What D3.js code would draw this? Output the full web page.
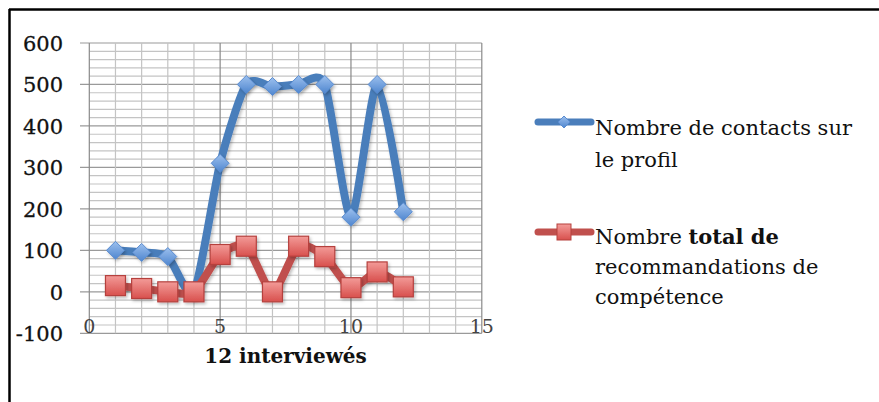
<!DOCTYPE html>
<html><head><meta charset="utf-8">
<script src="https://cdn.jsdelivr.net/npm/d3@7"></script>
<style>body{margin:0;background:#fff}svg{display:block}</style>
</head><body>
<script>
// ---- data ----
const interviewes = [1,2,3,4,5,6,7,8,9,10,11,12];
const contacts = [100,95,85,0,310,500,495,500,500,180,500,193];
const recommandations = [15,8,0,0,90,110,0,110,85,10,48,12];
const xTicks = [0,5,10,15];
const yTicks = [-100,0,100,200,300,400,500,600];
const legendContacts = ["Nombre de contacts sur","le profil"];
const legendReco = [["Nombre ",["total de"]],["recommandations de"],["compétence"]];
const xTitle = "12 interviewés";

const W = 879, H = 402;
const svg = d3.select("body").append("svg").attr("width",W).attr("height",H);
const defs = svg.append("defs");
const gb = defs.append("linearGradient").attr("id","gBlue").attr("x1",0).attr("y1",0).attr("x2",0).attr("y2",1);
gb.append("stop").attr("offset","0%").attr("stop-color","#9cc0ee");
gb.append("stop").attr("offset","100%").attr("stop-color","#4f86cf");
const gr = defs.append("linearGradient").attr("id","gRed").attr("x1",0).attr("y1",0).attr("x2",0).attr("y2",1);
gr.append("stop").attr("offset","0%").attr("stop-color","#f39b98");
gr.append("stop").attr("offset","100%").attr("stop-color","#d8504d");
const f = defs.append("filter").attr("id","sh").attr("x","-50%").attr("y","-50%").attr("width","200%").attr("height","200%");
f.append("feDropShadow").attr("dx",1.5).attr("dy",2).attr("stdDeviation",1.5).attr("flood-color","#000").attr("flood-opacity",0.25);

// frame
svg.append("line").attr("x1",9).attr("x2",W).attr("y1",9.5).attr("y2",9.5).attr("stroke","#000").attr("stroke-width",2.5);
svg.append("line").attr("x1",9.5).attr("x2",9.5).attr("y1",9).attr("y2",H).attr("stroke","#000").attr("stroke-width",2.5);

const x = d3.scaleLinear().domain([0,15]).range([89.3,481.8]);
const y = d3.scaleLinear().domain([-100,600]).range([333.3,43]);

const grid = svg.append("g");
d3.range(-100,601,20).forEach(v=>{
  const major = v%100===0;
  grid.append("line").attr("x1", major?80:x(0)).attr("x2",x(15))
    .attr("y1",y(v)).attr("y2",y(v))
    .attr("stroke", major?"#9a9a9a":"#c4c4c4").attr("stroke-width",1.2);
});
d3.range(0,16,1).forEach(v=>{
  const major = v%5===0;
  grid.append("line").attr("x1",x(v)).attr("x2",x(v))
    .attr("y1",y(600)).attr("y2",y(-100))
    .attr("stroke", major?"#8a8a8a":"#c4c4c4").attr("stroke-width",1.2);
});

// y axis labels
svg.append("g").selectAll("text").data(yTicks).join("text")
  .attr("x",63).attr("y",d=>y(d)+8)
  .attr("text-anchor","end").attr("font-family","DejaVu Serif").attr("font-size",21)
  .attr("fill","#111").attr("stroke","#111").attr("stroke-width",0.3).text(d=>d);
// x axis labels
svg.append("g").selectAll("text").data(xTicks).join("text")
  .attr("x",d=>x(d)).attr("y",333)
  .attr("text-anchor","middle").attr("font-family","DejaVu Serif").attr("font-size",19)
  .attr("fill","#444").text(d=>d);
svg.append("text").attr("x",(x(0)+x(15))/2).attr("y",363)
  .attr("text-anchor","middle").attr("font-family","DejaVu Serif").attr("font-weight","bold")
  .attr("font-size",20).attr("fill","#111").text(xTitle);

const line = d3.line().x(d=>x(d[0])).y(d=>y(d[1])).curve(d3.curveCardinal.tension(0.3));
const blueData = interviewes.map((d,i)=>[d,contacts[i]]);
const redData = interviewes.map((d,i)=>[d,recommandations[i]]);

const diamond = s => `M0,${-s}L${s},0L0,${s}L${-s},0Z`;

svg.append("path").datum(blueData).attr("d",line).attr("fill","none")
  .attr("stroke","#4a7ebb").attr("stroke-width",8).attr("stroke-linejoin","round").attr("filter","url(#sh)");
svg.append("g").selectAll("path").data(blueData).join("path")
  .attr("transform",d=>`translate(${x(d[0])},${y(d[1])})`)
  .attr("d",diamond(9)).attr("fill","url(#gBlue)").attr("stroke","#5a8cd0").attr("stroke-width",1).attr("filter","url(#sh)");

svg.append("path").datum(redData).attr("d",line).attr("fill","none")
  .attr("stroke","#c0504d").attr("stroke-width",8).attr("stroke-linejoin","round").attr("filter","url(#sh)");
svg.append("g").selectAll("rect").data(redData).join("rect")
  .attr("x",d=>x(d[0])-10).attr("y",d=>y(d[1])-10).attr("width",20).attr("height",20)
  .attr("fill","url(#gRed)").attr("stroke","#b5403d").attr("stroke-width",1.2).attr("filter","url(#sh)");

// legend
const lg = svg.append("g");
lg.append("line").attr("x1",538).attr("x2",591).attr("y1",122).attr("y2",122)
  .attr("stroke","#4a7ebb").attr("stroke-width",7).attr("stroke-linecap","round");
lg.append("path").attr("transform","translate(564,122)").attr("d",diamond(6)).attr("fill","url(#gBlue)").attr("stroke","#5a8cd0");
lg.append("line").attr("x1",538).attr("x2",591).attr("y1",232).attr("y2",232)
  .attr("stroke","#c0504d").attr("stroke-width",7).attr("stroke-linecap","round");
lg.append("rect").attr("x",557).attr("y",224).attr("width",14).attr("height",16).attr("fill","url(#gRed)").attr("stroke","#b5403d");

const t1 = lg.append("text").attr("font-family","DejaVu Serif").attr("font-size",21).attr("fill","#111");
legendContacts.forEach((s,i)=>t1.append("tspan").attr("x",595).attr("y",135+i*32).text(s));
const t2 = lg.append("text").attr("font-family","DejaVu Serif").attr("font-size",21).attr("fill","#111");
legendReco.forEach((parts,i)=>{
  const ts = t2.append("tspan").attr("x",595).attr("y",244+i*30);
  parts.forEach(p=>{
    if (Array.isArray(p)) ts.append("tspan").attr("font-weight","bold").text(p[0]);
    else ts.append("tspan").text(p);
  });
});
</script>
</body></html>
